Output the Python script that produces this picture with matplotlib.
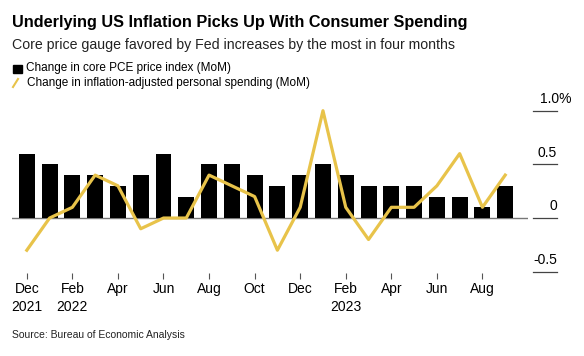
import numpy as np
import matplotlib
matplotlib.use("Agg")
import matplotlib.pyplot as plt
import matplotlib.transforms as mtrans

plt.rcParams['font.family'] = ['Liberation Sans', 'DejaVu Sans']

# monthly data, Dec 2021 .. Sep 2023
months = ['Dec', 'Jan', 'Feb', 'Mar', 'Apr', 'May', 'Jun', 'Jul', 'Aug', 'Sep', 'Oct', 'Nov',
          'Dec', 'Jan', 'Feb', 'Mar', 'Apr', 'May', 'Jun', 'Jul', 'Aug', 'Sep']
core_pce = [0.6, 0.5, 0.4, 0.4, 0.3, 0.4, 0.6, 0.2, 0.5, 0.5, 0.4, 0.3,
            0.4, 0.5, 0.4, 0.3, 0.3, 0.3, 0.2, 0.2, 0.1, 0.3]
spending = [-0.3, 0.0, 0.1, 0.4, 0.3, -0.1, 0.0, 0.0, 0.4, 0.3, 0.2, -0.3,
            0.1, 1.0, 0.1, -0.2, 0.1, 0.1, 0.3, 0.6, 0.1, 0.4]
tick_pos = [0, 2, 4, 6, 8, 10, 12, 14, 16, 18, 20]
tick_labels = ['Dec\n2021', 'Feb\n2022', 'Apr', 'Jun', 'Aug', 'Oct', 'Dec',
               'Feb\n2023', 'Apr', 'Jun', 'Aug']
y_ticks = [1.0, 0.5, 0, -0.5]
y_labels = ['1.0%', '0.5', '0', '-0.5']

yellow = '#E8C34A'
W, H = 584, 356
fig = plt.figure(figsize=(W / 100, H / 100), dpi=100)

# axes: x 12..528 px, y -0.5 line at 271.7 px, 1.0 line at 110.7 px
ylo, yhi = -0.51, 1.05
px_per = (271.7 - 110.7) / 1.5
top_px = 110.7 - (yhi - 1.0) * px_per
bot_px = 271.7 + (-0.5 - ylo) * px_per
ax = fig.add_axes([12 / W, 1 - bot_px / H, (528 - 12) / W, (bot_px - top_px) / H])

x = np.arange(len(months))
ax.bar(x, core_pce, width=0.7, color='black', zorder=2)
ax.plot(x, spending, color=yellow, lw=2.3, zorder=3)
ax.axhline(0, color='#777777', lw=1.0, zorder=1)

ax.set_xlim(-0.65, 22.0)
ax.set_ylim(ylo, yhi)
for s in ax.spines.values():
    s.set_visible(False)
ax.set_yticks([])
ax.set_xticks(tick_pos)
ax.set_xticklabels(tick_labels, fontsize=10, linespacing=1.3)
ax.tick_params(axis='x', length=4, width=0.8, color='#555555', pad=3)

# right-hand value scale: short lines with labels above
tr = mtrans.blended_transform_factory(fig.transFigure, ax.transData)
for v, lab in zip(y_ticks, y_labels):
    ax.plot([533 / W, 557 / W], [v, v], color='#444444', lw=0.9, transform=tr, clip_on=False)
    if lab.endswith('%'):
        ax.text(540 / W, v + 0.045, lab, transform=tr, ha='left', va='bottom', fontsize=10)
    else:
        ax.text(557 / W, v + 0.045, lab, transform=tr, ha='right', va='bottom', fontsize=10)

# titles
fig.text(12 / W, 1 - 22 / H, 'Underlying US Inflation Picks Up With Consumer Spending',
         fontsize=11.7, fontweight='bold', va='center')
fig.text(12 / W, 1 - 45 / H, 'Core price gauge favored by Fed increases by the most in four months',
         fontsize=10.2, va='center', color='#222222')

# legend
fig.patches.append(plt.Rectangle((13 / W, 1 - 73 / H), 9 / W, 8 / H, color='black',
                                 transform=fig.transFigure))
fig.text(26 / W, 1 - 68.5 / H, 'Change in core PCE price index (MoM)', fontsize=8.5, va='center')
fig.lines.append(plt.Line2D([13 / W, 18 / W], [1 - 87 / H, 1 - 79 / H], color=yellow, lw=1.5,
                            transform=fig.transFigure))
fig.text(27 / W, 1 - 83 / H, 'Change in inflation-adjusted personal spending (MoM)', fontsize=8.5,
         va='center')

fig.text(12 / W, 1 - 335 / H, 'Source: Bureau of Economic Analysis', fontsize=7.5, va='center',
         color='#222222')

fig.savefig('out.png', dpi=100)
